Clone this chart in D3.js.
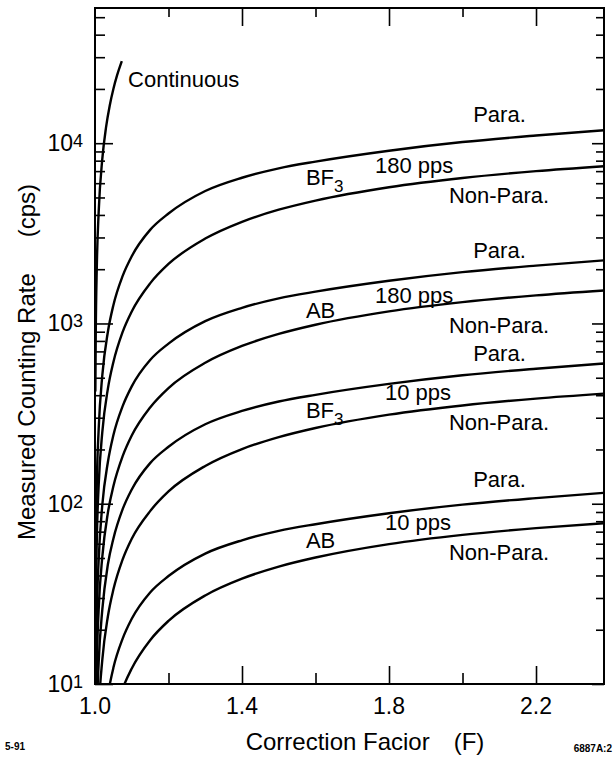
<html>
<head>
<meta charset="utf-8">
<title>Measured Counting Rate vs Correction Factor</title>
<style>
body{margin:0;background:#fff;}
svg{display:block;font-family:"Liberation Sans",Arial,Helvetica,sans-serif;}
</style>
<script src="https://d3js.org/d3.v7.min.js"></script>
</head>
<body>
<div id="container"></div>
<script>
var corrF = [1.001,1.002,1.005,1.01,1.02,1.035,1.05,1.075,1.1,1.15,1.2,1.3,1.4,1.5,1.6,1.8,2.0,2.2,2.385];

// measured counting rate (cps) for each detector / rep rate / dead time model
var bf3_180_para = [27,53,132,260,519,897,1263,1829,2360,3304,4071,5428,6431,7257,7906,9086,10148,11033,11800];
var bf3_180_non  = [12.8,25.6,64,127,251,434,610,895,1166,1669,2138,2958,3665,4276,4805,5699,6414,6995,7450];
var ab_180_para  = [5,10.1,25,49,99,170,240,347,448,627,773,1030,1221,1378,1501,1725,1926,2094,2240];
var ab_180_non   = [2.6,5.2,13.1,26,51,89,125,183,239,342,438,605,750,875,984,1167,1313,1432,1525];
var bf3_10_para  = [1.35,2.7,6.7,13.2,26,46,64,93,120,168,207,276,327,369,402,462,516,561,600];
var bf3_10_non   = [0.7,1.4,3.5,7,13.7,23.7,33.4,49,64,91,117,162,201,234,263,312,351,383,408];
var ab_10_para   = [0.26,0.52,1.3,2.5,5.1,8.7,12.3,17.8,23,32.2,39.7,52.9,62.7,70.7,77,88.6,98.9,107.5,115];
var ab_10_non    = [0.13,0.27,0.67,1.33,2.6,4.5,6.4,9.4,12.2,17.5,22.4,31,38.4,44.8,50.3,59.7,67.2,73.2,78];

// continuous source curve
var contF    = [1.001,1.002,1.005,1.01,1.02,1.03,1.04,1.05,1.06,1.073];
var contRate = [420,840,2090,4160,8240,12230,16150,20000,23770,28560];

// tick labels
var xTickVals = [1.0,1.4,1.8,2.2];
var xTickText = ["1.0","1.4","1.8","2.2"];
var xMinorVals = [1.2,1.6,2.0];
var yTickVals = [10,100,1000,10000];
var yTickExp  = ["1","2","3","4"];

const width = 615, height = 757;
const padL = 95, padR = 604, padT = 8, padB = 684;

var x = d3.scaleLinear().domain([1.0, 2.385]).range([padL, padR]);
var y = d3.scaleLog().domain([10, 56234]).range([padB, padT]);

var svg = d3.select("#container").append("svg")
  .attr("width", width).attr("height", height);

svg.append("clipPath").attr("id", "plot")
  .append("rect").attr("x", padL).attr("y", padT)
  .attr("width", padR - padL).attr("height", padB - padT);

// minor log ticks 2..9 in every decade
var yMinor = [];
[10,100,1000,10000].forEach(function(d){
  for (var k = 2; k <= 9; k++) { if (d*k < 56234) yMinor.push(d*k); }
});

function tickAxis(axisFn, scale, vals, size, tx, ty){
  var g = svg.append("g").attr("transform", "translate(" + tx + "," + ty + ")")
    .call(axisFn(scale).tickValues(vals).tickSize(size).tickSizeOuter(0).tickFormat(""));
  g.select(".domain").remove();
  g.selectAll("line").attr("stroke", "#000").attr("stroke-width", 1.6);
}
// left (ticks inward)
tickAxis(d3.axisRight, y, yMinor, 10, padL, 0);
tickAxis(d3.axisRight, y, yTickVals, 18, padL, 0);
// right
tickAxis(d3.axisLeft, y, yMinor, 8, padR, 0);
tickAxis(d3.axisLeft, y, yTickVals, 12, padR, 0);
// bottom
tickAxis(d3.axisTop, x, xMinorVals, 11, 0, padB);
tickAxis(d3.axisTop, x, xTickVals.slice(1), 18, 0, padB);
// top
tickAxis(d3.axisBottom, x, xMinorVals, 9, 0, padT);
tickAxis(d3.axisBottom, x, xTickVals.slice(1), 18, 0, padT);

// frame
svg.append("rect").attr("x", padL).attr("y", padT)
  .attr("width", padR - padL).attr("height", padB - padT)
  .attr("fill", "none").attr("stroke", "#000").attr("stroke-width", 2);

// curves
var series = [bf3_180_para, bf3_180_non, ab_180_para, ab_180_non,
              bf3_10_para, bf3_10_non, ab_10_para, ab_10_non];
var line = d3.line()
  .x(function(d){ return x(d[0]); })
  .y(function(d){ return y(Math.max(d[1], 0.01)); })
  .curve(d3.curveMonotoneX);

var curves = svg.append("g").attr("clip-path", "url(#plot)");
series.forEach(function(s){
  curves.append("path")
    .datum(corrF.map(function(f, i){ return [f, s[i]]; }))
    .attr("d", line).attr("fill", "none")
    .attr("stroke", "#000").attr("stroke-width", 2.4);
});
curves.append("path")
  .datum(contF.map(function(f, i){ return [f, contRate[i]]; }))
  .attr("d", line).attr("fill", "none")
  .attr("stroke", "#000").attr("stroke-width", 2.4);

// tick labels
svg.selectAll(".xlab").data(xTickVals).enter().append("text")
  .attr("x", function(d){ return x(d); }).attr("y", padB + 30)
  .attr("text-anchor", "middle").attr("font-size", 23)
  .text(function(d, i){ return xTickText[i]; });

var yl = svg.selectAll(".ylab").data(yTickVals).enter().append("text")
  .attr("x", padL - 12).attr("y", function(d){ return y(d) + 8; })
  .attr("text-anchor", "end").attr("font-size", 23);
yl.append("tspan").text("10");
yl.append("tspan").attr("font-size", 18).attr("dy", -4)
  .text(function(d, i){ return yTickExp[i]; });

// axis titles
var xt = svg.append("text").attr("x", 365).attr("y", 750)
  .attr("text-anchor", "middle").attr("font-size", 24);
xt.append("tspan").text("Correction Facior");
xt.append("tspan").attr("dx", 24).text("(F)");

var yt = svg.append("text").attr("transform", "translate(35,362) rotate(-90)")
  .attr("text-anchor", "middle").attr("font-size", 24);
yt.append("tspan").text("Measured Counting Rate");
yt.append("tspan").attr("dx", 36).text("(cps)");

// curve labels, anchored at (F, rate)
var notes = [
  ["Continuous", 1.09, 20500],
  ["BF|3", 1.574, 5860], ["180 pps", 1.762, 6820], ["Para.", 2.029, 13100], ["Non-Para.", 1.963, 4660],
  ["AB", 1.574, 1072], ["180 pps", 1.762, 1297], ["Para.", 2.029, 2307], ["Non-Para.", 1.963, 880],
  ["BF|3", 1.574, 299], ["10 pps", 1.789, 376], ["Para.", 2.029, 618], ["Non-Para.", 1.963, 256],
  ["AB", 1.574, 56.8], ["10 pps", 1.789, 71.5], ["Para.", 2.029, 124], ["Non-Para.", 1.963, 48.8]
];
notes.forEach(function(n){
  var t = svg.append("text").attr("x", x(n[1])).attr("y", y(n[2])).attr("font-size", 22);
  var parts = n[0].split("|");
  t.append("tspan").text(parts[0]);
  if (parts.length > 1) t.append("tspan").attr("font-size", 17).attr("dy", 7).text(parts[1]);
});

// corner ids
svg.append("text").attr("x", 5).attr("y", 750).attr("font-size", 10)
  .attr("font-weight", "bold").text("5-91");
svg.append("text").attr("x", 612).attr("y", 752).attr("font-size", 10)
  .attr("font-weight", "bold").attr("text-anchor", "end").text("6887A:2");
</script>
</body>
</html>
